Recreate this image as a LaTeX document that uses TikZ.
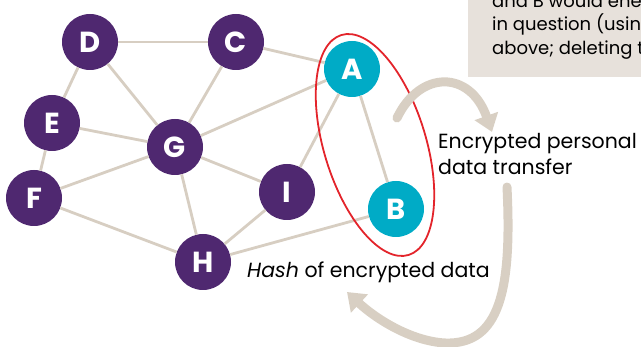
\documentclass[tikz,border=0pt]{standalone}
\usepackage{fontspec}
\setmainfont{Poppins}
\usetikzlibrary{arrows.meta}
\definecolor{purp}{HTML}{4F2870}
\definecolor{teal}{HTML}{00ABC6}
\definecolor{edgec}{HTML}{D7CEC2}
\definecolor{boxc}{HTML}{E7E1DB}
\definecolor{redc}{HTML}{E3242B}
\definecolor{arrc}{HTML}{D8CFC3}
\tikzset{
  peer/.style={circle, fill=purp, text=white, minimum size=56pt, inner sep=0pt, font=\fontsize{29}{30}\selectfont\bfseries},
  peerab/.style={peer, fill=teal},
  link/.style={draw=edgec, line width=2.8pt},
  flow/.style={draw=arrc, line width=9pt, line cap=round, -{Triangle[width=24pt,length=17pt]}},
  lbl/.style={anchor=base west, inner sep=0pt, font=\fontsize{20.5}{24}\selectfont, text=black},
  boxtxt/.style={lbl, font=\fontsize{18}{22}\selectfont},
}
\begin{document}
\begin{tikzpicture}[x=1pt,y=-1pt]
\useasboundingbox (0,0) rectangle (641,347);
\clip (0,0) rectangle (641,347);
% text box
\fill[boxc] (468,-10) rectangle (645,77);
\node[boxtxt] (t1) at (492,8) {and B would ene};
\node[boxtxt] (t2) at (492,31) {in question (usin};
\node[boxtxt] (t3) at (492,55) {above; deleting t};
% nodes
\node[peer] (D) at (90,42) {D};
\node[peer] (C) at (236,42) {C};
\node[peer] (E) at (52,123) {E};
\node[peer] (G) at (175,147) {G};
\node[peer] (F) at (34,198) {F};
\node[peer] (I) at (287,192) {I};
\node[peer] (H) at (203,262) {H};
\node[peerab] (A) at (352,69) {A};
\node[peerab] (B) at (396,209) {B};
% edges
\foreach \u/\v in {D/C, D/E, D/G, C/G, C/A, E/G, E/F, F/G, F/H, G/I, G/H, G/A, I/H, I/A, H/B, A/B}
  \draw[link] (\u) -- (\v);
% ellipse
\draw[redc, line width=1.8pt, rotate around={17:(375,145)}] (375,145) ellipse [x radius=51, y radius=115];
% labels
\node[lbl] (l1) at (438,149) {Encrypted personal};
\node[lbl] (l2) at (438,175) {data transfer};
\node[lbl] (l3) at (247,278) {\textit{Hash} of encrypted data};
% arrows
\coordinate (s1) at (397,118);
\coordinate (e1) at (492,132);
\draw[flow] (s1) .. controls (420,70) and (470,70) .. (e1);
\coordinate (s2) at (507,187);
\coordinate (m2) at (445,343);
\coordinate (e2) at (347,292);
\draw[flow] (s2) .. controls (512,290) and (500,345) .. (m2) .. controls (410,341) and (375,318) .. (e2);
\end{tikzpicture}
\end{document}
